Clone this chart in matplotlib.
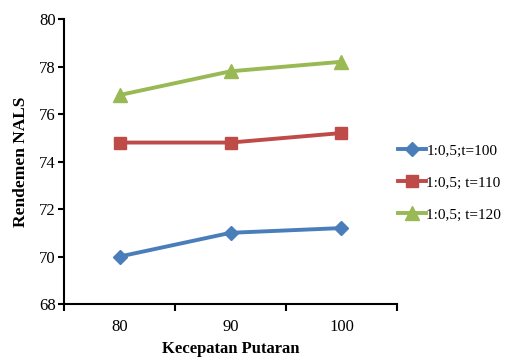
import matplotlib
matplotlib.use("Agg")
import matplotlib.pyplot as plt

categories = ["80", "90", "100"]
series_labels = ["1:0,5;t=100", "1:0,5; t=110", "1:0,5; t=120"]
t100 = [70.0, 71.0, 71.2]
t110 = [74.8, 74.8, 75.2]
t120 = [76.8, 77.8, 78.2]

colors = ["#4A7EBB", "#BE4B48", "#98B954"]
markers = ["D", "s", "^"]
msizes = [7.5, 8.5, 9.5]

plt.rcParams["font.family"] = ["Liberation Serif", "DejaVu Serif"]

fig = plt.figure(figsize=(5.05, 3.59), dpi=100)
ax = fig.add_axes([0.127, 0.153, 0.659, 0.794])

x = list(range(len(categories)))
for vals, lab, c, m, ms in zip([t100, t110, t120], series_labels, colors, markers, msizes):
    ax.plot(x, vals, color=c, marker=m, markersize=ms, linewidth=2.8, label=lab)

ax.set_xlim(-0.5, len(categories) - 0.5)
ax.set_ylim(68, 80)
ax.set_yticks(range(68, 81, 2))
ax.set_xticks([i - 0.5 for i in range(len(categories) + 1)])
ax.set_xticklabels([])
ax.set_xticks(x, minor=True)
ax.set_xticklabels(categories, minor=True)
ax.tick_params(axis="x", which="minor", length=0, pad=11, labelsize=12)
ax.tick_params(axis="x", which="major", length=5, width=1.5, direction="out")
ax.tick_params(axis="y", length=4, width=1.5, direction="out", labelsize=12, pad=2)

for s in ["top", "right"]:
    ax.spines[s].set_visible(False)
for s in ["left", "bottom"]:
    ax.spines[s].set_linewidth(1.5)

ax.set_ylabel("Rendemen NALS", fontweight="bold", fontsize=12.5, labelpad=7)
ax.set_xlabel("Kecepatan Putaran", fontweight="bold", fontsize=12, labelpad=4)

ax.legend(loc="center left", bbox_to_anchor=(0.985, 0.425), frameon=False,
          fontsize=11, handlelength=1.8, handletextpad=0.05, labelspacing=1.2,
          borderaxespad=0)

fig.savefig("out.png", dpi=100)
